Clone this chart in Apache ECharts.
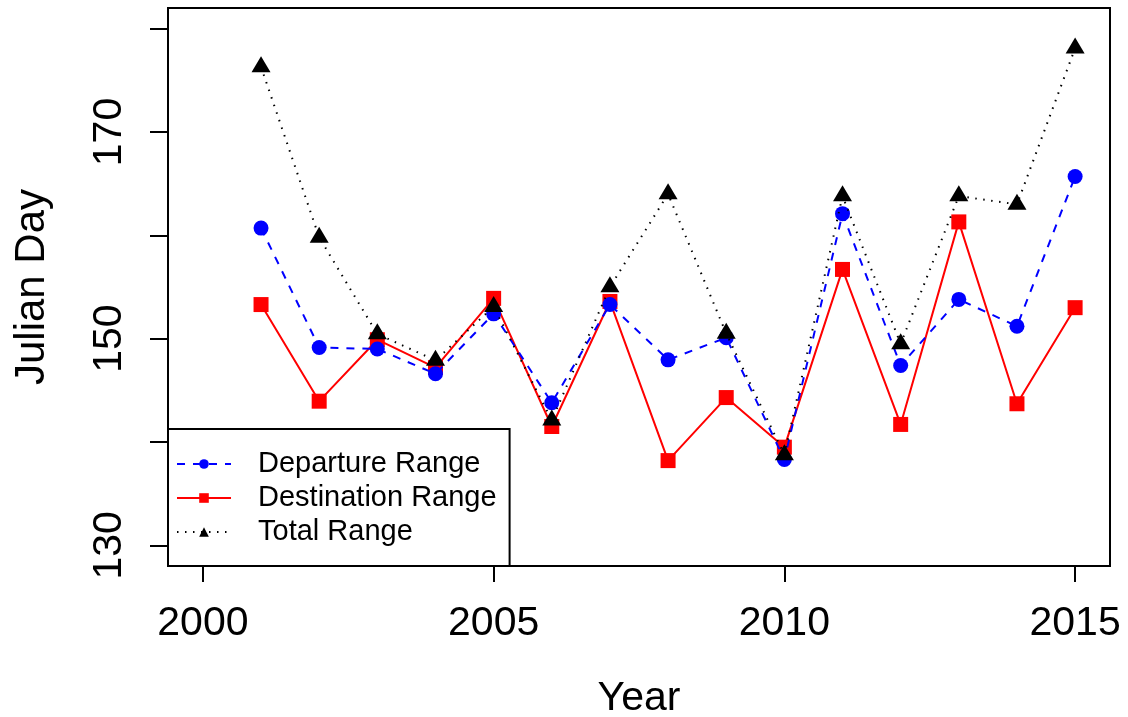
<!DOCTYPE html>
<html><head><meta charset="utf-8">
<script src="https://cdn.jsdelivr.net/npm/echarts@6/dist/echarts.min.js"></script>
<style>html,body{margin:0;padding:0;background:#fff}#c{width:1128px;height:717px}</style>
</head><body><div id="c"></div>
<script>
const years = [2001,2002,2003,2004,2005,2006,2007,2008,2009,2010,2011,2012,2013,2014,2015];
const departure = [160.7,149.15,149.0,146.6,152.4,143.8,153.3,147.95,150.1,138.3,162.1,147.4,153.8,151.2,165.7];
const destination = [153.3,143.95,149.9,147.2,153.9,141.5,153.6,138.2,144.3,139.5,156.7,141.7,161.3,143.7,153.0];
const total = [176.3,159.8,150.45,147.9,153.1,142.1,155.0,164.0,150.5,138.75,163.8,149.5,163.8,163.0,178.1];
const xTicks = [2000,2005,2010,2015];
const yTicks = [130,140,150,160,170,180];
const yLabels = [130,150,170];
const seriesNames = ['Departure Range','Destination Range','Total Range'];

const pair = arr => years.map((y,i)=>[y, arr[i]]);
const FONT = '"Liberation Sans", Arial, Helvetica, sans-serif';
const chart = echarts.init(document.getElementById('c'), null, {renderer:'canvas'});
chart.setOption({
  animation:false,
  backgroundColor:'#fff',
  textStyle:{fontFamily:FONT},
  grid:{left:168,right:18,top:8,bottom:151,outerBoundsMode:'none',containLabel:false,
        show:true,borderColor:'#000',borderWidth:2,backgroundColor:'transparent',z:10},
  xAxis:{
    type:'value',min:1999.4,max:2015.6,
    name:'Year',nameLocation:'middle',nameGap:112,
    nameTextStyle:{fontFamily:FONT,fontSize:41,color:'#000'},
    axisLine:{show:false},splitLine:{show:false},
    axisTick:{show:true,length:16,lineStyle:{color:'#000',width:2},customValues:xTicks},
    axisLabel:{customValues:xTicks,formatter:v=>String(v),fontFamily:FONT,fontSize:41,color:'#000',margin:37}
  },
  yAxis:{
    type:'value',min:128,max:182,
    name:'Julian Day',nameLocation:'middle',nameGap:115,
    nameTextStyle:{fontFamily:FONT,fontSize:42,color:'#000'},
    axisLine:{show:false},splitLine:{show:false},
    axisTick:{show:true,length:18,lineStyle:{color:'#000',width:2},customValues:yTicks},
    axisLabel:{customValues:yLabels,formatter:v=>String(v),fontFamily:FONT,fontSize:41,color:'#000',margin:38,rotate:90}
  },
  legend:{
    data:seriesNames,
    orient:'vertical',left:168,bottom:151,
    padding:[18,13,17,8],itemGap:0,itemWidth:54,itemHeight:12,
    backgroundColor:'#fff',borderColor:'#000',borderWidth:2,
    textStyle:{fontFamily:FONT,fontSize:29,color:'#000',lineHeight:34,padding:[0,0,0,22]},
    z:20
  },
  series:[
    {name:seriesNames[1],type:'line',data:pair(destination),z:2,
     symbol:'rect',symbolSize:15,
     itemStyle:{color:'#ff0000',borderWidth:0},
     lineStyle:{color:'#ff0000',width:2,type:'solid'}},
    {name:seriesNames[0],type:'line',data:pair(departure),z:3,
     symbol:'circle',symbolSize:15,
     itemStyle:{color:'#0000ff',borderWidth:0},
     lineStyle:{color:'#0000ff',width:2,type:[8,8]}},
    {name:seriesNames[2],type:'line',data:pair(total),z:4,
     symbol:'triangle',symbolSize:[19,16],symbolOffset:[0,-2.7],
     itemStyle:{color:'#000',borderWidth:0},
     lineStyle:{color:'#000',width:2,type:[1.5,6.5]}}
  ]
});
</script></body></html>
